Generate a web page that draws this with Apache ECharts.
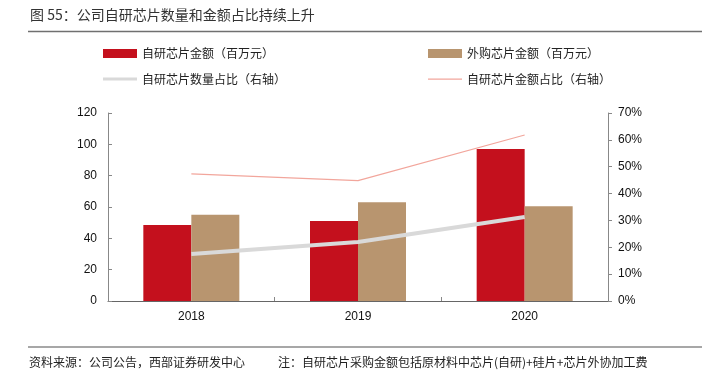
<!DOCTYPE html>
<html>
<head>
<meta charset="utf-8">
<script src="https://cdn.jsdelivr.net/npm/echarts@6/dist/echarts.min.js"></script>
<style>
  html, body { margin: 0; padding: 0; background: #fff; }
  #chart { width: 702px; height: 377px; }
</style>
</head>
<body>
<div id="chart"></div>
<script>
const years = ['2018', '2019', '2020']
const selfAmount = [48.5, 51, 97]
const boughtAmount = [55, 63, 60.5]
const selfCountShare = [17.5, 22, 31.3]
const selfAmountShare = [47.3, 44.8, 61.8]

const font = '"Liberation Sans", Arial, sans-serif'
const cjk = '"Noto Sans CJK SC", sans-serif'

// thin line icons for the legend (moveTo points keep the 34x9 box)
const thickLine = 'path://M0,0 M0,3 H34 V6 H0 Z M34,9'
const thinLine = 'path://M0,0 M0,4 H34 V5.2 H0 Z M34,9'

const chart = echarts.init(document.getElementById('chart'))

const legendText = { fontFamily: cjk, fontSize: 12, color: '#222', lineHeight: 14 }

const option = {
  animation: false,
  textStyle: { fontFamily: font },
  graphic: [
    { type: 'text', style: { x: 30, y: 15, verticalAlign: 'middle', text: '图 55：公司自研芯片数量和金额占比持续上升', font: '14px ' + cjk, fill: '#333' } },
    { type: 'line', shape: { x1: 28, y1: 31.5, x2: 702, y2: 31.5 }, style: { stroke: '#707070', lineWidth: 1.5 } },
    { type: 'line', shape: { x1: 28, y1: 347, x2: 702, y2: 347 }, style: { stroke: '#8a8a8a', lineWidth: 1.5 } },
    { type: 'text', style: { x: 29, y: 362, verticalAlign: 'middle', text: '资料来源：公司公告，西部证券研发中心', font: '12px ' + cjk, fill: '#222' } },
    { type: 'text', style: { x: 278, y: 362, verticalAlign: 'middle', text: '注：自研芯片采购金额包括原材料中芯片(自研)+硅片+芯片外协加工费', font: '12px ' + cjk, fill: '#222' } }
  ],
  legend: [
    {
      left: 103, top: 46.5, orient: 'vertical', itemGap: 11.5, padding: 0,
      itemWidth: 34, itemHeight: 9, textStyle: legendText,
      data: [
        { name: '自研芯片金额（百万元）', icon: 'rect' },
        { name: '自研芯片数量占比（右轴）', icon: thickLine }
      ]
    },
    {
      left: 428, top: 46.5, orient: 'vertical', itemGap: 11.5, padding: 0,
      itemWidth: 34, itemHeight: 9, textStyle: legendText,
      data: [
        { name: '外购芯片金额（百万元）', icon: 'rect' },
        { name: '自研芯片金额占比（右轴）', icon: thinLine }
      ]
    }
  ],
  grid: { left: 108, right: 94, top: 113, bottom: 76 },
  xAxis: {
    type: 'category',
    data: years,
    axisLine: { lineStyle: { color: '#666' } },
    axisTick: { show: true, length: 4, inside: true, lineStyle: { color: '#888' } },
    axisLabel: { color: '#111', fontSize: 12, margin: 10 }
  },
  yAxis: [
    {
      type: 'value', min: 0, max: 120, interval: 20,
      axisLine: { show: true, lineStyle: { color: '#888' } },
      axisTick: { show: true, length: 4, inside: true, lineStyle: { color: '#888' } },
      splitLine: { show: false },
      axisLabel: { color: '#111', fontSize: 12, margin: 11 }
    },
    {
      type: 'value', min: 0, max: 70, interval: 10,
      axisLine: { show: true, lineStyle: { color: '#888' } },
      axisTick: { show: true, length: 4, lineStyle: { color: '#888' } },
      splitLine: { show: false },
      axisLabel: { color: '#111', fontSize: 12, margin: 10, formatter: '{value}%' }
    }
  ],
  series: [
    {
      name: '自研芯片金额（百万元）', type: 'bar', data: selfAmount,
      barWidth: 48, barGap: '0%',
      itemStyle: { color: '#c4101d' }
    },
    {
      name: '外购芯片金额（百万元）', type: 'bar', data: boughtAmount,
      barWidth: 48,
      itemStyle: { color: '#b8956f' }
    },
    {
      name: '自研芯片数量占比（右轴）', type: 'line', yAxisIndex: 1, data: selfCountShare,
      symbol: 'none', lineStyle: { color: '#d9d9d9', width: 4 }, itemStyle: { color: '#d9d9d9' }
    },
    {
      name: '自研芯片金额占比（右轴）', type: 'line', yAxisIndex: 1, data: selfAmountShare,
      symbol: 'none', lineStyle: { color: '#f2a69c', width: 1.2 }, itemStyle: { color: '#f2a69c' }
    }
  ]
}

chart.setOption(option)
</script>
</body>
</html>
